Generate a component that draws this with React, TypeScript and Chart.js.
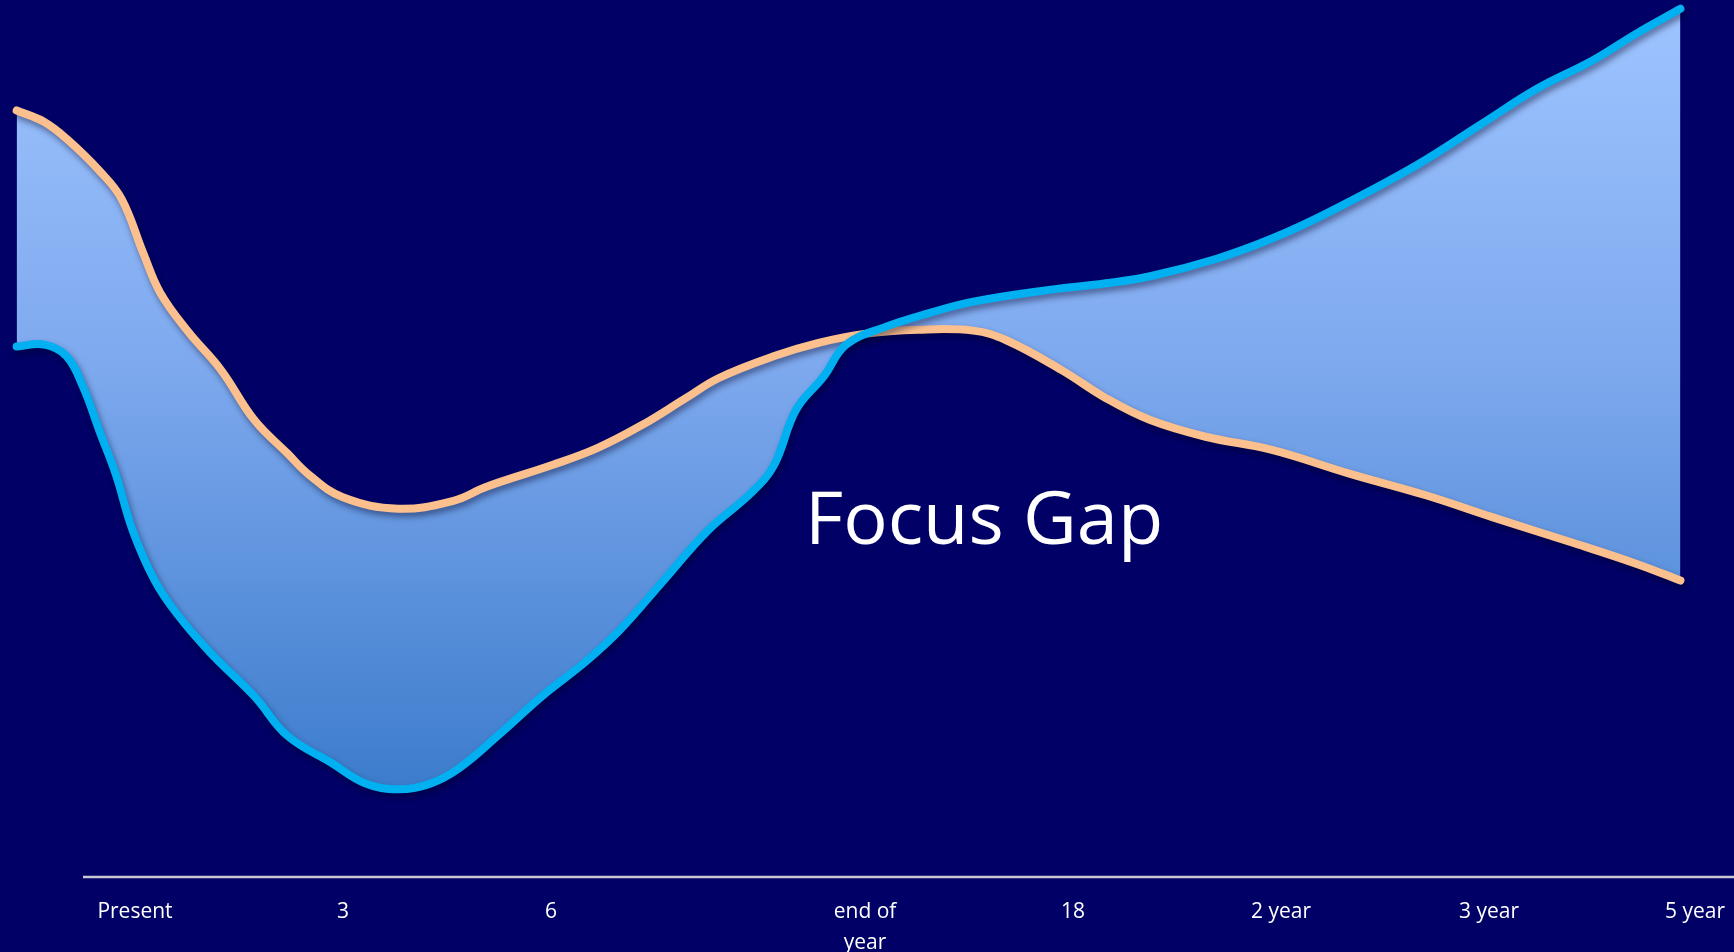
import React, { useEffect, useRef } from "react";
import { Chart, registerables } from "chart.js";

Chart.register(...registerables);

// Timeline tick positions (in slot units) and their labels
const TICK_POS = [0, 1, 2, 3.51, 4.51, 5.51, 6.51, 7.5];
const TICK_LABELS: (string | string[])[] = ["Present", "3", "6", ["end of", "year"], "18", "2 year", "3 year", "5 year"];

// "Near-term" focus curve (peach)
const ORANGE_X = [-0.569, -0.436, -0.33, -0.17, -0.064, 0.042, 0.122, 0.255, 0.414, 0.574, 0.733, 0.84, 0.999, 1.265, 1.531, 1.69, 2.009, 2.222, 2.435, 2.648, 2.807, 3.073, 3.286, 3.498, 3.764, 4.03, 4.189, 4.455, 4.668, 4.881, 5.147, 5.466, 5.838, 6.21, 6.529, 6.901, 7.22, 7.43];
const ORANGE_Y = [87.4, 86.1, 84.2, 80.5, 77.3, 71.0, 66.6, 62.2, 57.8, 52.1, 48.3, 45.8, 43.3, 42.0, 42.9, 44.5, 47.0, 48.9, 51.5, 54.6, 56.9, 59.4, 60.9, 61.9, 62.4, 62.3, 61.2, 57.8, 54.6, 52.1, 50.2, 48.7, 46.0, 43.5, 41.0, 38.2, 35.7, 33.8];

// "Long-term" focus curve (cyan)
const BLUE_X = [-0.569, -0.436, -0.33, -0.25, -0.17, -0.091, -0.011, 0.095, 0.202, 0.361, 0.574, 0.733, 0.946, 1.106, 1.265, 1.425, 1.558, 1.744, 1.956, 2.169, 2.329, 2.541, 2.754, 2.967, 3.073, 3.179, 3.312, 3.419, 3.605, 3.817, 4.03, 4.349, 4.668, 4.881, 5.2, 5.466, 5.731, 6.157, 6.476, 6.742, 7.007, 7.22, 7.43];
const BLUE_Y = [60.5, 60.7, 59.4, 55.9, 50.8, 45.8, 39.5, 33.8, 30.0, 25.6, 20.6, 16.1, 13.0, 10.7, 10.0, 10.7, 12.4, 16.1, 20.6, 24.6, 28.1, 33.8, 39.5, 43.9, 47.0, 53.3, 57.1, 60.7, 62.7, 64.3, 65.6, 66.8, 67.7, 68.5, 70.5, 72.8, 75.7, 81.1, 85.9, 89.9, 93.1, 96.2, 99.0];

const GAP_LABEL = "Focus Gap";
const GAP_LABEL_X = 3.221;
const GAP_LABEL_Y = 38.0;

const X_MIN = -0.649;
const X_MAX = 7.6875;
const AXIS_LINE_START = -0.25;

export default function App() {
  const ref = useRef<HTMLCanvasElement | null>(null);

  useEffect(() => {
    document.body.style.margin = "0";
    const canvas = ref.current!;
    const orange = ORANGE_X.map((x, i) => ({ x, y: ORANGE_Y[i] }));
    const blue = BLUE_X.map((x, i) => ({ x, y: BLUE_Y[i] }));

    const gradientFill = (ctx: any) => {
      const chart = ctx.chart;
      const area = chart.chartArea;
      if (!area) return "#7FA8EC";
      const ys = chart.scales.y;
      const g = chart.ctx.createLinearGradient(0, ys.getPixelForValue(99), 0, ys.getPixelForValue(9));
      g.addColorStop(0, "#9EC4FF");
      g.addColorStop(0.45, "#7EA9EE");
      g.addColorStop(1, "#3B7BCB");
      return g;
    };

    const shadowPlugin = {
      id: "lineShadow",
      beforeDatasetDraw(chart: any) {
        const c = chart.ctx;
        c.save();
        c.shadowColor = "rgba(0, 0, 40, 0.45)";
        c.shadowBlur = 6;
        c.shadowOffsetX = 2;
        c.shadowOffsetY = 4;
      },
      afterDatasetDraw(chart: any) {
        chart.ctx.restore();
      },
    };

    const decorPlugin = {
      id: "decor",
      afterDraw(chart: any) {
        const c = chart.ctx;
        const xs = chart.scales.x;
        const ys = chart.scales.y;
        const area = chart.chartArea;
        c.save();
        c.strokeStyle = "#C9C9D6";
        c.lineWidth = 2.5;
        c.beginPath();
        c.moveTo(xs.getPixelForValue(AXIS_LINE_START), area.bottom);
        c.lineTo(chart.width, area.bottom);
        c.stroke();
        c.fillStyle = "#FFFFFF";
        c.font = '74px "Open Sans"';
        c.textAlign = "left";
        c.textBaseline = "alphabetic";
        c.fillText(GAP_LABEL, xs.getPixelForValue(GAP_LABEL_X), ys.getPixelForValue(GAP_LABEL_Y));
        c.restore();
      },
    };

    const chart = new Chart(canvas, {
      type: "line",
      data: {
        datasets: [
          {
            label: "Long-term",
            data: blue,
            borderColor: "#00B0F0",
            borderWidth: 8,
            pointRadius: 0,
            tension: 0.4,
            fill: false,
            borderCapStyle: "round",
          },
          {
            label: "Near-term",
            data: orange,
            borderColor: "#FBC08E",
            borderWidth: 8,
            pointRadius: 0,
            tension: 0.4,
            fill: { target: 0 },
            backgroundColor: gradientFill,
            borderCapStyle: "round",
          },
        ],
      },
      options: {
        responsive: false,
        devicePixelRatio: 1,
        animation: false,
        layout: { padding: 0 },
        plugins: {
          legend: { display: false },
          title: { display: false },
          tooltip: { enabled: false },
        },
        scales: {
          x: {
            type: "linear",
            min: X_MIN,
            max: X_MAX,
            position: "bottom",
            grid: { display: false, drawTicks: false },
            border: { display: false },
            afterBuildTicks: (scale: any) => {
              scale.ticks = TICK_POS.map((v) => ({ value: v }));
            },
            afterFit: (scale: any) => {
              scale.height = 75;
              scale.paddingLeft = 0;
              scale.paddingRight = 0;
            },
            ticks: {
              autoSkip: false,
              maxRotation: 0,
              minRotation: 0,
              padding: 20,
              color: "#FFFFFF",
              font: { family: '"Open Sans"', size: 21, lineHeight: 1.45 },
              callback: (_v: any, i: number) => TICK_LABELS[i],
            },
          },
          y: {
            type: "linear",
            min: 0,
            max: 100,
            display: false,
          },
        },
      },
      plugins: [shadowPlugin, decorPlugin],
    } as any);

    return () => chart.destroy();
  }, []);

  return (
    <div style={{ position: "fixed", left: 0, top: 0, width: 1734, height: 952, background: "#000066" }}>
      <canvas ref={ref} width={1734} height={952} style={{ display: "block" }} />
    </div>
  );
}
